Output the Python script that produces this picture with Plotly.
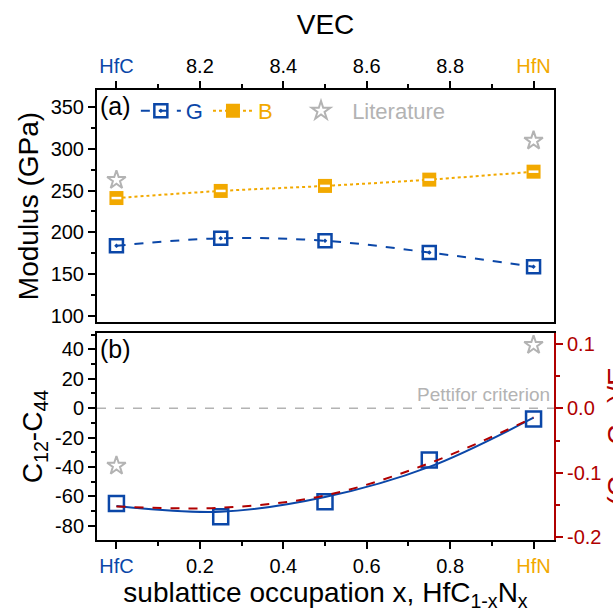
import plotly.graph_objects as go

# ---- data ----
x_occ = [0, 0.25, 0.5, 0.75, 1.0]
G_mod = [184, 193, 190, 176, 159]
B_mod = [241, 249.5, 255.5, 263, 272.5]
lit_x = [0, 1.0]
lit_mod = [262.5, 309.5]

c12_c44 = [-64.8, -73.9, -63.7, -35.3, -7.4]
c_fit = [-66.5, -70.5, -60.5, -40.0, -6.5]
c_over_E_fit = [-0.152, -0.154, -0.135, -0.085, -0.014]
lit_c = [-39.2, 42.9]

vec_vals = [8.0, 9.0]
bot_tickvals = [0, 0.2, 0.4, 0.6, 0.8, 1.0]
top_tickvals = [8.0, 8.2, 8.4, 8.6, 8.8, 9.0]

BLUE = "#0b47a8"
ORANGE = "#f2a900"
GREY = "#b3b3b3"
RED = "#b00000"
FONT = "Liberation Sans, Arial, sans-serif"
TICK = 20
TITLE = 28

bot_ticktext = ["<span style='color:%s'>HfC</span>" % BLUE, "0.2", "0.4", "0.6", "0.8",
                "<span style='color:%s'>HfN</span>" % ORANGE]
top_ticktext = ["<span style='color:%s'>HfC</span>" % BLUE, "8.2", "8.4", "8.6", "8.8",
                "<span style='color:%s'>HfN</span>" % ORANGE]

xr = [-0.0466, 1.049]

fig = go.Figure()

# top panel
fig.add_trace(go.Scatter(x=x_occ, y=G_mod, xaxis="x2", yaxis="y2", mode="lines+markers",
                         name="<span style='color:%s'>G</span>" % BLUE,
                         line=dict(color=BLUE, width=2, dash="dash", shape="spline"),
                         marker=dict(symbol="square-open-dot", size=13, color=BLUE,
                                     line=dict(width=2.5, color=BLUE))))
fig.add_trace(go.Scatter(x=x_occ, y=B_mod, xaxis="x2", yaxis="y2", mode="lines+markers",
                         name="<span style='color:%s'>B</span>&nbsp;&nbsp;&nbsp;" % ORANGE,
                         line=dict(color=ORANGE, width=2, dash="dot", shape="spline"),
                         marker=dict(symbol="square", size=14, color=ORANGE,
                                     line=dict(width=0))))
fig.add_trace(go.Scatter(x=x_occ, y=B_mod, xaxis="x2", yaxis="y2", mode="markers",
                         showlegend=False, hoverinfo="skip",
                         marker=dict(symbol="line-ew", size=7, color="white",
                                     line=dict(width=2.5, color="white"))))
fig.add_trace(go.Scatter(x=lit_x, y=lit_mod, xaxis="x2", yaxis="y2", mode="markers",
                         name="&nbsp;<span style='color:%s'>Literature</span>" % GREY,
                         marker=dict(symbol="star-open", size=14, color=GREY,
                                     line=dict(width=2, color=GREY))))
# invisible trace so the VEC axis is drawn
fig.add_trace(go.Scatter(x=vec_vals, y=[None, None], xaxis="x3", yaxis="y2", mode="markers",
                         showlegend=False, hoverinfo="skip", marker=dict(opacity=0)))

# bottom panel
fig.add_trace(go.Scatter(x=x_occ, y=c_fit, xaxis="x", yaxis="y", mode="lines",
                         showlegend=False,
                         line=dict(color=BLUE, width=2, shape="spline")))
fig.add_trace(go.Scatter(x=x_occ, y=c_over_E_fit, xaxis="x", yaxis="y3", mode="lines",
                         showlegend=False,
                         line=dict(color=RED, width=2, dash="dash", shape="spline")))
fig.add_trace(go.Scatter(x=x_occ, y=c12_c44, xaxis="x", yaxis="y", mode="markers",
                         showlegend=False,
                         marker=dict(symbol="square-open", size=15, color=BLUE,
                                     line=dict(width=2.5, color=BLUE))))
fig.add_trace(go.Scatter(x=lit_x, y=lit_c, xaxis="x", yaxis="y", mode="markers",
                         showlegend=False,
                         marker=dict(symbol="star-open", size=14, color=GREY,
                                     line=dict(width=2, color=GREY))))

tickfont = dict(family=FONT, size=TICK, color="black")
common_ax = dict(showgrid=False, zeroline=False, linecolor="black", linewidth=2,
                 ticklen=7, tickwidth=2, tickcolor="black", tickfont=tickfont)

left_vals = [40, 20, 0, -20, -40, -60, -80]
right_vals = [0.1, 0.0, -0.1, -0.2]

fig.update_layout(
    width=613, height=615,
    margin=dict(l=97, r=46, t=90, b=75),
    plot_bgcolor="white", paper_bgcolor="white",
    font=dict(family=FONT, color="black"),
    xaxis=dict(common_ax, domain=[0, 1], anchor="y", range=xr, ticks="outside",
               tickvals=bot_tickvals, ticktext=bot_ticktext, showline=True, mirror=True,
               minor=dict(dtick=0.1, tick0=0, ticks="outside", ticklen=4, tickwidth=2, tickcolor="black"),
               title=dict(text="sublattice occupation x, HfC<sub>1-x</sub>N<sub>x</sub>",
                          font=dict(family=FONT, size=TITLE), standoff=6)),
    yaxis=dict(common_ax, domain=[0, 0.46], anchor="x", range=[-89.7, 51.1], ticks="outside",
               tickvals=left_vals, ticktext=[str(v) for v in left_vals], showline=True,
               minor=dict(dtick=10, tick0=0, ticks="outside", ticklen=4, tickwidth=2, tickcolor="black"),
               title=dict(text="C<sub>12</sub>-C<sub>44</sub>", font=dict(family=FONT, size=TITLE),
                          standoff=4)),
    yaxis3=dict(common_ax, overlaying="y", side="right", anchor="x", range=[-0.204, 0.117],
                ticks="outside", linecolor=RED, tickcolor=RED,
                tickvals=right_vals, ticktext=["0.1", "0.0", "-0.1", "-0.2"],
                tickfont=dict(family=FONT, size=TICK, color=RED), showline=True,
                minor=dict(dtick=0.05, tick0=0, ticks="outside", ticklen=4, tickwidth=2, tickcolor=RED)),
    xaxis2=dict(common_ax, domain=[0, 1], anchor="y2", range=xr, showticklabels=False,
                ticks="", showline=True, mirror=True),
    xaxis3=dict(common_ax, overlaying="x2", anchor="y2", side="top", range=[8 + xr[0], 8 + xr[1]],
                ticks="outside", tickvals=top_tickvals, ticktext=top_ticktext, showline=True,
                minor=dict(dtick=0.1, tick0=8, ticks="outside", ticklen=4, tickwidth=2, tickcolor="black"),
                title=dict(text="VEC", font=dict(family=FONT, size=TITLE), standoff=12)),
    yaxis2=dict(common_ax, domain=[0.4844, 1], anchor="x2", range=[93, 370], ticks="outside",
                dtick=50, tick0=0, showline=True, mirror=True,
                minor=dict(dtick=25, tick0=0, ticks="outside", ticklen=4, tickwidth=2, tickcolor="black"),
                title=dict(text="Modulus (GPa)", font=dict(family=FONT, size=TITLE), standoff=4)),
    legend=dict(orientation="h", x=0.085, y=1.0, xanchor="left", yanchor="top",
                bgcolor="rgba(0,0,0,0)", font=dict(family=FONT, size=22),
                itemwidth=40, tracegroupgap=0),
    shapes=[dict(type="line", xref="x", yref="y", x0=xr[0], x1=xr[1], y0=0, y1=0,
                 line=dict(color=GREY, width=1.5, dash="dash"), layer="below")],
    annotations=[
        dict(text="(a)", xref="paper", yref="paper", x=0.003, y=1.0, xanchor="left",
             yanchor="top", showarrow=False, font=dict(family=FONT, size=25)),
        dict(text="(b)", xref="paper", yref="paper", x=0.003, y=0.46, xanchor="left",
             yanchor="top", showarrow=False, font=dict(family=FONT, size=25)),
        dict(text="Pettifor criterion", xref="x", yref="y", x=1.045, y=0, xanchor="right",
             yanchor="bottom", yshift=1, showarrow=False, font=dict(family=FONT, size=19, color=GREY)),
        dict(text="(C<sub>12</sub>-C<sub>44</sub>)/E", xref="paper", yref="paper", x=1.10,
             y=0.23, xanchor="left", yanchor="middle", textangle=-90, showarrow=False,
             font=dict(family=FONT, size=TITLE, color=RED)),
    ],
)

fig.write_html("out.html", config=dict(displayModeBar=False))
